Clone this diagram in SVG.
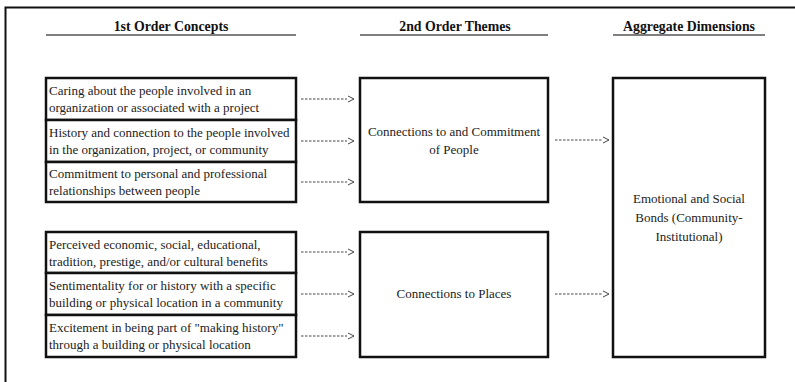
<svg xmlns="http://www.w3.org/2000/svg" width="795" height="382" viewBox="0 0 795 382">
<style>
.hdr{font-family:'Liberation Serif','Times New Roman',serif;font-weight:bold;font-size:13.8px;fill:#111;text-anchor:middle}
.ul{stroke:#555;stroke-width:1.5}
.box{fill:#fff;stroke:#111;stroke-width:2.5}
.t{font-family:'Liberation Serif','Times New Roman',serif;font-size:13px;fill:#222}
.tm{font-family:'Liberation Serif','Times New Roman',serif;font-size:13px;fill:#222;text-anchor:middle}
.dl{stroke:#444;stroke-width:1;stroke-dasharray:2.5,1.5;fill:none}
.hd{stroke:#444;stroke-width:1;fill:none}
</style>
<rect x="0" y="0" width="795" height="382" fill="#fff"/>
<g id="frame">
<path d="M5.5,382 V7.5 H795" fill="none" stroke="#111" stroke-width="2"/>
</g>
<g id="headers">
<text class="hdr" x="171" y="31">1st Order Concepts</text>
<line class="ul" x1="46" y1="35" x2="296" y2="35"/>
<text class="hdr" x="455" y="31">2nd Order Themes</text>
<line class="ul" x1="360" y1="35" x2="548" y2="35"/>
<text class="hdr" x="689" y="31">Aggregate Dimensions</text>
<line class="ul" x1="613" y1="35" x2="765" y2="35"/>
</g>
<g id="c1">
<rect class="box" x="46" y="78" width="250" height="42"/>
<text class="t" x="49" y="95">Caring about the people involved in an</text>
<text class="t" x="49" y="112">organization or associated with a project</text>
</g>
<g id="c2">
<rect class="box" x="46" y="120" width="250" height="42"/>
<text class="t" x="49" y="137">History and connection to the people involved</text>
<text class="t" x="49" y="154">in the organization, project, or community</text>
</g>
<g id="c3">
<rect class="box" x="46" y="162" width="250" height="40"/>
<text class="t" x="49" y="178">Commitment to personal and professional</text>
<text class="t" x="49" y="195">relationships between people</text>
</g>
<g id="c4">
<rect class="box" x="46" y="232" width="250" height="41"/>
<text class="t" x="49" y="249">Perceived economic, social, educational,</text>
<text class="t" x="49" y="266">tradition, prestige, and/or cultural benefits</text>
</g>
<g id="c5">
<rect class="box" x="46" y="273" width="250" height="42"/>
<text class="t" x="49" y="290">Sentimentality for or history with a specific</text>
<text class="t" x="49" y="307">building or physical location in a community</text>
</g>
<g id="c6">
<rect class="box" x="46" y="315" width="250" height="42"/>
<text class="t" x="49" y="332">Excitement in being part of "making history"</text>
<text class="t" x="49" y="349">through a building or physical location</text>
</g>
<g id="t1">
<rect class="box" x="360" y="78" width="188" height="124"/>
<text class="tm" x="454" y="136">Connections to and Commitment</text>
<text class="tm" x="454" y="154">of People</text>
</g>
<g id="t2">
<rect class="box" x="360" y="232" width="188" height="125"/>
<text class="tm" x="454" y="298">Connections to Places</text>
</g>
<g id="d1">
<rect class="box" x="613" y="78" width="152" height="279"/>
<text class="tm" x="689" y="203">Emotional and Social</text>
<text class="tm" x="689" y="222">Bonds (Community-</text>
<text class="tm" x="689" y="241">Institutional)</text>
</g>
<g id="connectors">
<g transform="translate(0,99)"><path class="dl" d="M301,0 H347"/><path class="hd" d="M348,-3 L354,0 L348,3"/></g>
<g transform="translate(0,141)"><path class="dl" d="M301,0 H347"/><path class="hd" d="M348,-3 L354,0 L348,3"/></g>
<g transform="translate(0,182)"><path class="dl" d="M301,0 H347"/><path class="hd" d="M348,-3 L354,0 L348,3"/></g>
<g transform="translate(0,252)"><path class="dl" d="M301,0 H347"/><path class="hd" d="M348,-3 L354,0 L348,3"/></g>
<g transform="translate(0,294)"><path class="dl" d="M301,0 H347"/><path class="hd" d="M348,-3 L354,0 L348,3"/></g>
<g transform="translate(0,336)"><path class="dl" d="M301,0 H347"/><path class="hd" d="M348,-3 L354,0 L348,3"/></g>
<g transform="translate(0,140)"><path class="dl" d="M555,0 H602"/><path class="hd" d="M603,-3 L609,0 L603,3"/></g>
<g transform="translate(0,294)"><path class="dl" d="M555,0 H602"/><path class="hd" d="M603,-3 L609,0 L603,3"/></g>
</g>
</svg>
